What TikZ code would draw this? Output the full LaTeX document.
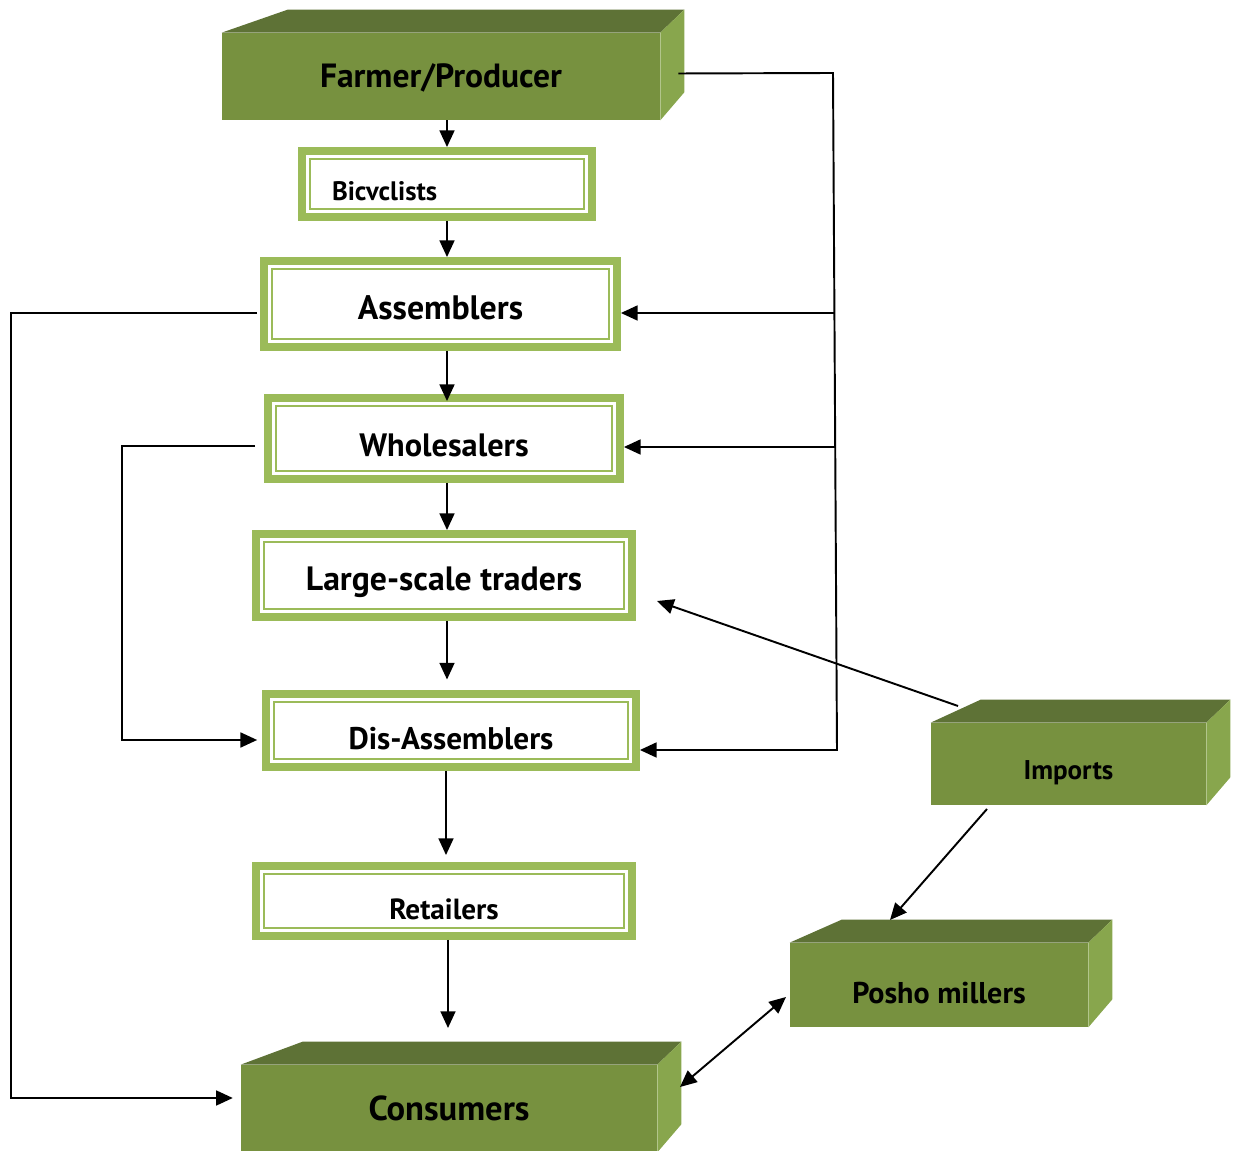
\documentclass[tikz,border=0pt]{standalone}
\usepackage{fontspec}
\setmainfont{PT Sans}
\usetikzlibrary{arrows.meta}

\definecolor{frontgreen}{HTML}{77913F}
\definecolor{topgreen}{HTML}{5E7236}
\definecolor{sidegreen}{HTML}{88A64D}
\definecolor{bandgreen}{HTML}{9BBB59}

% top and right faces of a solid block
\newcommand{\blockfaces}[2]{%
  \fill[topgreen] (#1.north west) -- ++(#2,-23) -- ([shift={(24,-23)}]#1.north east) -- (#1.north east) -- cycle;
  \fill[sidegreen] (#1.north east) -- ++(24,-23) -- ([shift={(24,-28)}]#1.south east) -- (#1.south east) -- cycle;
}
\newcommand{\sunk}[2]{\raisebox{-#1}[\height][\depth]{#2}}

\begin{document}
\begin{tikzpicture}[
    x=0.02cm, y=-0.02cm,
    >={Triangle[length=9.5pt,width=8.5pt]},
    link/.style = {->, line width=1.1pt},
    textsize/.style = {font=\fontsize{#1}{#1}\selectfont\bfseries},
    stage/.style = {
      draw=bandgreen,
      line width=4.5pt,
      fill=white,
      inner sep=0pt,
      path picture={
        \draw[bandgreen, line width=1.1pt]
          ([shift={(4.5pt,-4.5pt)}]path picture bounding box.north west) rectangle
          ([shift={(-4.5pt,4.5pt)}]path picture bounding box.south east);
      }
    },
    block/.style = {
      fill=frontgreen,
      inner sep=0pt
    }
  ]
  \useasboundingbox (0,0) rectangle (1235,1151);

  % solid blocks
  \node[block, textsize=19.1pt, minimum width=8.76cm, minimum height=1.74cm] (farmer) at (441,76.5) {\sunk{0.02cm}{Farmer/Producer}};
  \blockfaces{farmer}{66}
  \node[block, textsize=19.7pt, minimum width=8.32cm, minimum height=1.74cm] (consumers) at (449,1108.5) {Consumers};
  \blockfaces{consumers}{62}
  \node[block, textsize=15.4pt, minimum width=5.5cm, minimum height=1.64cm] (imports) at (1068.5,764) {\sunk{0.18cm}{Imports}};
  \blockfaces{imports}{50}
  \node[block, textsize=17.1pt, minimum width=5.96cm, minimum height=1.68cm] (posho) at (939,985) {\sunk{0.16cm}{Posho millers}};
  \blockfaces{posho}{52}

  % framed stages
  \node[stage, textsize=15.2pt, minimum width=5.8cm, minimum height=1.32cm, text width=4.6cm, align=left] (bicyclists) at (447,184) {\sunk{0.14cm}{Bicvclists}};
  \node[stage, textsize=19.3pt, minimum width=7.06cm, minimum height=1.72cm] (assemblers) at (440.5,304) {\sunk{0.08cm}{Assemblers}};
  \node[stage, textsize=18.4pt, minimum width=7.04cm, minimum height=1.62cm] (wholesalers) at (444,438.5) {\sunk{0.14cm}{Wholesalers}};
  \node[stage, textsize=19.2pt, minimum width=7.52cm, minimum height=1.66cm] (largescale) at (444,575.5) {\sunk{0.14cm}{Large-scale traders}};
  \node[stage, textsize=17.8pt, minimum width=7.4cm, minimum height=1.46cm] (disassemblers) at (451,730.5) {\sunk{0.16cm}{Dis-Assemblers}};
  \node[stage, textsize=16.6pt, minimum width=7.52cm, minimum height=1.4cm] (retailers) at (444,901) {\sunk{0.16cm}{Retailers}};

  % free ends of the connectors
  \coordinate (busTop) at (833,73);
  \coordinate (busBot) at (837,750);
  \coordinate (busA) at (834,313);
  \coordinate (busW) at (836,447);
  \coordinate (leftA) at (11,313);
  \coordinate (leftC) at (11,1098);
  \coordinate (leftW) at (122,446);
  \coordinate (leftD) at (122,740);
  \coordinate (toLarge) at (657,601);
  \coordinate (fromImp) at (958,706);
  \coordinate (impOut) at (987,809);
  \coordinate (toPosho) at (890,920);
  \coordinate (toCons) at (448,1028);
  \coordinate (consEnd) at (680,1087);
  \coordinate (poshoEnd) at (786,997);

  % main chain
  \draw[link] (bicyclists.north |- farmer.south) -- (bicyclists.north);
  \draw[link] (bicyclists.south) -- (bicyclists.south |- assemblers.north);
  \draw[link] (bicyclists.south |- assemblers.south) -- ([yshift=-4pt]bicyclists.south |- wholesalers.north);
  \draw[link] (bicyclists.south |- wholesalers.south) -- (bicyclists.south |- largescale.north);
  \draw[link] (bicyclists.south |- largescale.south) -- ([yshift=6pt]bicyclists.south |- disassemblers.north);
  \draw[link] ([xshift=-0.57pt]bicyclists.south |- disassemblers.south) -- ([xshift=-0.57pt, yshift=4pt]bicyclists.south |- retailers.north);
  \draw[link] (retailers.south -| toCons) -- (toCons);

  % direct from farmer
  \draw[link] ([shift={(18,-3)}]farmer.east) -- (busTop) -- (busBot) -- (busBot -| disassemblers.east);
  \draw[link] (busA) -- (busA -| assemblers.east);
  \draw[link] (busW) -- (busW -| wholesalers.east);

  % by-passes on the left
  \draw[link] ([xshift=-1.7pt]leftA -| assemblers.west) -- (leftA) -- (leftC) -- ([xshift=-4.5pt]leftC -| consumers.west);
  \draw[link] ([xshift=-5.1pt]leftW -| wholesalers.west) -- (leftW) -- (leftD) -- ([xshift=-2.8pt]leftD -| disassemblers.west);

  % imports
  \draw[link] (fromImp) -- (toLarge);
  \draw[link] (impOut) -- (toPosho);
  \draw[<->, line width=1.1pt] (consEnd) -- (poshoEnd);
\end{tikzpicture}
\end{document}
